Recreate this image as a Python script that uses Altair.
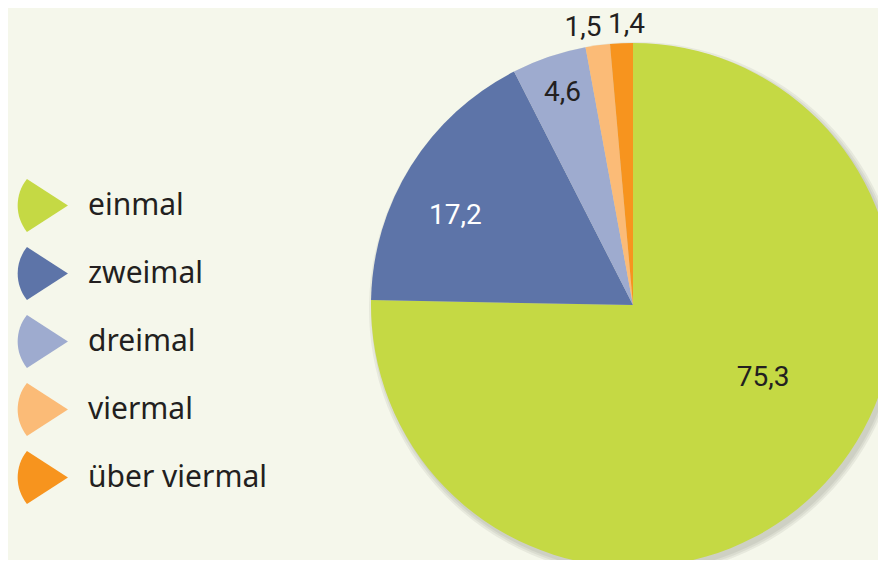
import altair as alt
import pandas as pd

categories = ["einmal", "zweimal", "dreimal", "viermal", "über viermal"]
values = [75.3, 17.2, 4.6, 1.5, 1.4]
labels = ["75,3", "17,2", "4,6", "1,5", "1,4"]
colors = ["#c5d944", "#5d74a8", "#9eabcf", "#fbbb77", "#f7941e"]

df = pd.DataFrame({"cat": categories, "val": values, "label": labels,
                   "idx": list(range(len(categories)))})

cx, cy, R = 625, 297, 262
bg = "#f5f7eb"

base = alt.Chart(df).encode(
    theta=alt.Theta("val:Q", stack=True),
    order=alt.Order("idx:Q"),
)

shadows = [
    base.mark_arc(color="#3a3a2a", opacity=0.07, stroke=None).encode(
        x=alt.value(cx + 3), y=alt.value(cy + 4), radius=alt.value(R + d)
    )
    for d in (5, 3, 1)
]

pie = base.mark_arc(stroke=None).encode(
    x=alt.value(cx),
    y=alt.value(cy),
    radius=alt.value(R),
    color=alt.Color(
        "cat:N",
        sort=categories,
        scale=alt.Scale(domain=categories, range=colors),
        legend=alt.Legend(
            title=None,
            orient="none",
            legendX=7,
            legendY=171,
            symbolType="M1,0L-0.55,-1A1.6,1.6,0,0,0,-0.55,1Z",
            symbolSize=2800,
            symbolStrokeWidth=0,
            symbolOpacity=1,
            labelFontSize=30,
            labelFont="Noto Sans",
            labelColor="#231f20",
            labelOffset=20,
            labelLimit=0,
            rowPadding=15,
            padding=0,
        ),
    ),
)

tbase = (
    alt.Chart(df)
    .transform_window(cum="sum(val)", sort=[alt.SortField("idx")])
    .transform_calculate(mid="datum.cum - datum.val / 2")
    .encode(
        theta=alt.Theta("mid:Q", stack=None,
                        scale=alt.Scale(domain=[0, 100], range=[0, 6.283185307])),
        x=alt.value(cx),
        y=alt.value(cy),
        text="label:N",
    )
)

def lab(i, radius, color, dx=0, dy=0):
    return tbase.transform_filter(f"datum.idx == {i}").mark_text(
        radius=radius, font="Roboto", fontSize=28, color=color, dx=dx, dy=dy
    )

texts = [
    lab(0, 120, "#231f20", dx=46, dy=-13),
    lab(1, 200, "#ffffff", dx=-8, dy=17),
    lab(2, 220, "#231f20", dy=-4),
    lab(3, 282, "#231f20", dx=-12, dy=2),
    lab(4, 282, "#231f20", dx=6, dy=2),
]

chart = alt.layer(*shadows, pie, *texts).properties(
    width=870, height=552, background=bg, padding=0, autosize="none"
).configure_view(stroke=None)

chart.save("out.html", embed_options={"renderer": "svg", "actions": False})
